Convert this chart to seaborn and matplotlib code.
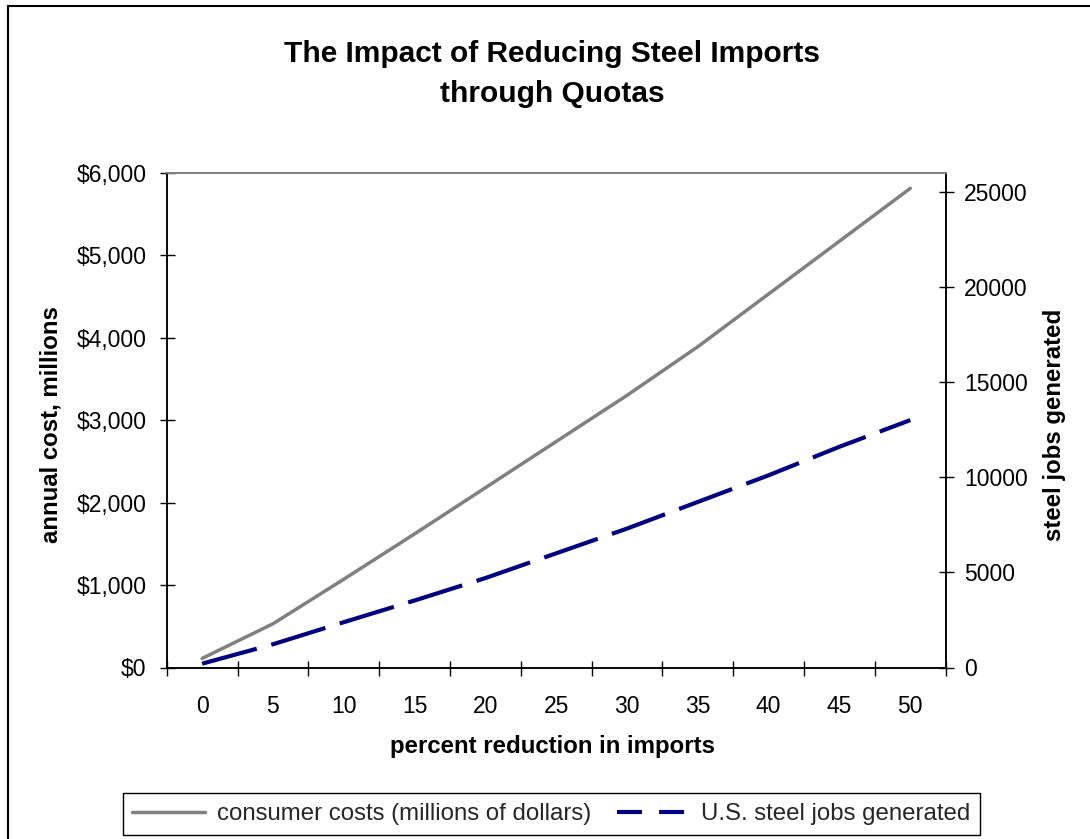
import matplotlib
matplotlib.use("Agg")
import matplotlib.pyplot as plt
from matplotlib.lines import Line2D
from matplotlib.ticker import FuncFormatter, FixedLocator, NullFormatter
import numpy as np
import pandas as pd
import seaborn as sns

# ---- data ----
pct_reduction = [0, 5, 10, 15, 20, 25, 30, 35, 40, 45, 50]
consumer_costs = [110, 530, 1070, 1620, 2180, 2740, 3300, 3890, 4530, 5170, 5810]
steel_jobs = [200, 1220, 2380, 3520, 4700, 6000, 7300, 8700, 10100, 11600, 13000]

cost_ticks = [0, 1000, 2000, 3000, 4000, 5000, 6000]
jobs_ticks = [0, 5000, 10000, 15000, 20000, 25000]

title_text = "The Impact of Reducing Steel Imports\nthrough Quotas"
xlabel_text = "percent reduction in imports"
ylabel_left = "annual cost, millions"
ylabel_right = "steel jobs generated"
legend_labels = ["consumer costs (millions of dollars)", "U.S. steel jobs generated"]

df = pd.DataFrame({"pct": pct_reduction, "cost": consumer_costs, "jobs": steel_jobs})

sns.set_theme(style="white")
plt.rcParams["font.family"] = ["Liberation Sans", "DejaVu Sans"]

W, H = 1090, 839
fig = plt.figure(figsize=(W / 100, H / 100), dpi=100)
fig.patch.set_facecolor("white")

# plot area in pixel terms
left_px, right_px, top_px, bottom_px = 166.7, 945.7, 172.7, 667.5
ax = fig.add_axes([left_px / W, 1 - bottom_px / H,
                   (right_px - left_px) / W, (bottom_px - top_px) / H])
ax2 = ax.twinx()

gray = "#808080"
navy = "#000080"

sns.lineplot(data=df, x="pct", y="cost", ax=ax, color=gray, linewidth=2.5,
             legend=False)
sns.lineplot(data=df, x="pct", y="jobs", ax=ax2, color=navy, linewidth=3.0,
             legend=False)
ax2.lines[0].set_dashes([13.6, 3.6])
ax2.lines[0].set_dash_capstyle("butt")

# axes limits
ax.set_xlim(-2.5, 52.5)
ax.set_ylim(0, 6000)
ax2.set_ylim(0, 26000)

tick_kw = dict(direction="inout", length=10.8, width=1.0, color="black",
               labelsize=16.5, labelcolor="black")

# category-style x axis: marks between categories, labels at centres
ax.xaxis.set_major_locator(FixedLocator([p - 2.5 for p in pct_reduction] + [52.5]))
ax.xaxis.set_major_formatter(NullFormatter())
ax.xaxis.set_minor_locator(FixedLocator(pct_reduction))
ax.xaxis.set_minor_formatter(FuncFormatter(lambda v, p: f"{int(round(v))}"))
ax.tick_params(axis="x", which="major", bottom=True, **tick_kw)
ax.tick_params(axis="x", which="minor", bottom=True, length=0, pad=20,
               labelsize=16.5, labelcolor="black")

ax.set_yticks(cost_ticks)
ax.yaxis.set_major_formatter(FuncFormatter(lambda v, p: f"${int(v):,}"))
ax.tick_params(axis="y", which="major", left=True, pad=9, **tick_kw)

ax2.set_yticks(jobs_ticks)
ax2.yaxis.set_major_formatter(FuncFormatter(lambda v, p: f"{int(v)}"))
ax2.tick_params(axis="y", which="major", right=True, pad=8, **tick_kw)
ax2.tick_params(axis="x", bottom=False, top=False, labelbottom=False)

for a in (ax, ax2):
    a.grid(False)
    a.set_facecolor("none")
    for side in ("left", "bottom", "right"):
        a.spines[side].set_color("black")
        a.spines[side].set_linewidth(1.1)
    a.spines["top"].set_color(gray)
    a.spines["top"].set_linewidth(1.3)
ax.set_facecolor("white")

# axis labels
lab_font = dict(fontsize=17.3, fontweight="bold", color="black")
ax.set_xlabel(xlabel_text, **lab_font)
ax.xaxis.set_label_coords(0.495, -0.1587)
ax.xaxis.label.set_va("center")

ax.set_ylabel(ylabel_left, **lab_font)
ax.yaxis.set_label_coords((51 - left_px) / (right_px - left_px), 0.49)
ax.yaxis.label.set_va("center")

ax2.set_ylabel(ylabel_right, rotation=90, **lab_font)
ax2.yaxis.set_label_coords((1054 - left_px) / (right_px - left_px), 0.49)
ax2.yaxis.label.set_va("center")

# title
fig.text(552 / W, 1 - 74 / H, title_text, ha="center", va="center",
         fontsize=21.5, fontweight="bold", color="black", linespacing=1.55)

# legend
handles = [
    Line2D([], [], color=gray, linewidth=2.5),
    Line2D([], [], color=navy, linewidth=3.0, dashes=[6.0, 4.1],
           dash_capstyle="butt"),
]
leg = fig.legend(handles, legend_labels, loc="center", ncol=2,
                 bbox_to_anchor=(551.5 / W, 1 - 814 / H),
                 fontsize=17.3, frameon=True, fancybox=False, shadow=False,
                 handlelength=3.0, handletextpad=0.5, columnspacing=1.1,
                 borderpad=0.4, borderaxespad=0)
leg.get_frame().set_edgecolor("black")
leg.get_frame().set_linewidth(1.0)
leg.get_frame().set_facecolor("white")
leg.get_frame().set_alpha(1.0)

# chart-area border (left and top edges)
fig.add_artist(Line2D([8 / W, 8 / W], [0, 1 - 6 / H], transform=fig.transFigure,
                      color="black", linewidth=1.5))
fig.add_artist(Line2D([8 / W, 1], [1 - 6 / H, 1 - 6 / H], transform=fig.transFigure,
                      color="black", linewidth=1.5))

fig.savefig("out.png", dpi=100, facecolor="white")
